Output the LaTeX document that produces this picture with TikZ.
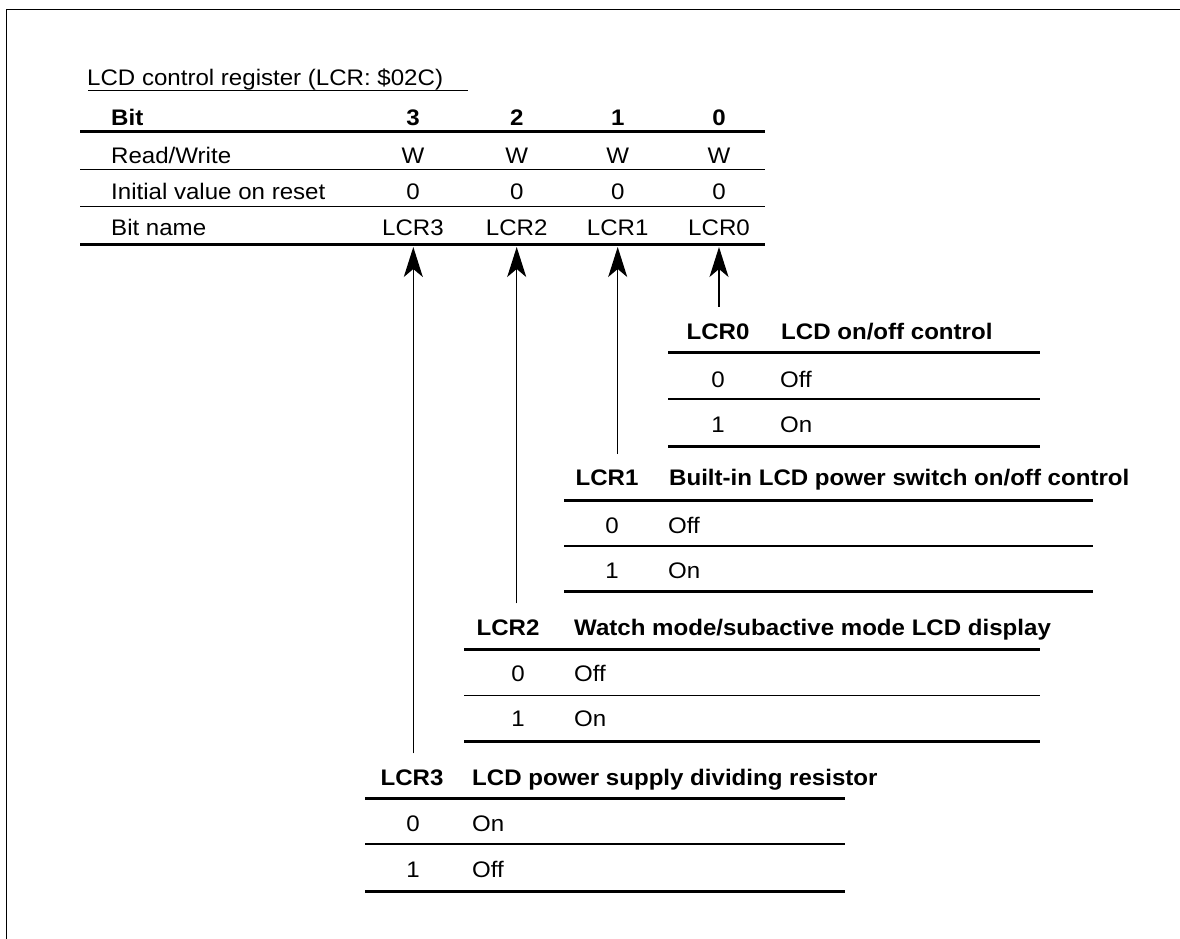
\documentclass[tikz,border=0pt]{standalone}
\usepackage{fontspec}
\setmainfont{Liberation Sans}[FakeStretch=1.07]
\usetikzlibrary{arrows.meta}
\tikzset{
  lbl/.style={inner sep=0pt, anchor=base west, font=\fontsize{22.5}{27}\selectfont},
  cval/.style={inner sep=0pt, anchor=base, font=\fontsize{22.5}{27}\selectfont},
  blbl/.style={lbl, font=\fontsize{22.5}{27}\selectfont\bfseries},
  bval/.style={cval, font=\fontsize{22.5}{27}\selectfont\bfseries},
  heavyrule/.style={line width=3pt},
  lightrule/.style={line width=1.2pt},
  framerule/.style={line width=1.5pt},
  ptr/.style={line width=1.3pt, -{Stealth[length=30pt,width=19pt,inset=8pt]}}
}
\begin{document}
\begin{tikzpicture}[x=1pt,y=-1pt]
\useasboundingbox (0,0) rectangle (1180,939);
% frame
\draw[framerule] (6.7,939) -- (6.7,9.3) -- (1180,9.3);
% title
\node[lbl] (title) at (87,86) {LCD control register (LCR: \$02C)};
\draw[lightrule] (88,90.7) -- (468,90.7);
% main table
\node[blbl] (bit) at (111,125) {Bit};
\node[bval] (b3) at (413,125) {3};
\node[bval] (b2) at (516.7,125) {2};
\node[bval] (b1) at (617.7,125) {1};
\node[bval] (b0) at (719,125) {0};
\draw[heavyrule] (80,131.7) -- (765,131.7);
\node[lbl] (rw) at (111,163) {Read/Write};
\node[cval] (w3) at (413,163) {W};
\node[cval] (w2) at (516.7,163) {W};
\node[cval] (w1) at (617.7,163) {W};
\node[cval] (w0) at (719,163) {W};
\draw[lightrule] (80,169.3) -- (765,169.3);
\node[lbl] (iv) at (111,199) {Initial value on reset};
\node[cval] (i3) at (413,199) {0};
\node[cval] (i2) at (516.7,199) {0};
\node[cval] (i1) at (617.7,199) {0};
\node[cval] (i0) at (719,199) {0};
\draw[lightrule] (80,206.7) -- (765,206.7);
\node[lbl] (bn) at (111,235) {Bit name};
\node[cval] (n3) at (413,235) {LCR3};
\node[cval] (n2) at (516.7,235) {LCR2};
\node[cval] (n1) at (617.7,235) {LCR1};
\node[cval] (n0) at (719,235) {LCR0};
\draw[heavyrule] (80,244) -- (765,244);
% arrow coordinates
\coordinate (t3) at (413.3,247);
\coordinate (t2) at (516.7,247);
\coordinate (t1) at (617.7,247);
\coordinate (t0) at (719,247);
\coordinate (s3) at (413.3,753.3);
\coordinate (s2) at (516.7,603.3);
\coordinate (s1) at (617.7,454);
\coordinate (s0) at (719,306.7);
\draw[ptr] (s3) -- (t3);
\draw[ptr] (s2) -- (t2);
\draw[ptr] (s1) -- (t1);
\draw[ptr] (s0) -- (t0);
% LCR0 table
\node[bval] (h0) at (718,339) {LCR0};
\node[blbl] (d0) at (781,339) {LCD on/off control};
\draw[heavyrule] (668,352.7) -- (1040,352.7);
\node[cval] (v00) at (718,387) {0};
\node[lbl] (x00) at (780,387) {Off};
\draw[lightrule] (668,399) -- (1040,399);
\node[cval] (v01) at (718,432) {1};
\node[lbl] (x01) at (780,432) {On};
\draw[heavyrule] (668,446) -- (1040,446);
% LCR1 table
\node[bval] (h1) at (607,485) {LCR1};
\node[blbl] (d1) at (669,485) {Built-in LCD power switch on/off control};
\draw[heavyrule] (564,500) -- (1092.7,500);
\node[cval] (v10) at (612,533) {0};
\node[lbl] (x10) at (668,533) {Off};
\draw[lightrule] (564,546) -- (1092.7,546);
\node[cval] (v11) at (612,578) {1};
\node[lbl] (x11) at (668,578) {On};
\draw[heavyrule] (564,591.5) -- (1092.7,591.5);
% LCR2 table
\node[bval] (h2) at (508,635) {LCR2};
\node[blbl] (d2) at (574,635) {Watch mode/subactive mode LCD display};
\draw[heavyrule] (464,649.3) -- (1040,649.3);
\node[cval] (v20) at (518,681) {0};
\node[lbl] (x20) at (574,681) {Off};
\draw[lightrule] (464,695.7) -- (1040,695.7);
\node[cval] (v21) at (518,726) {1};
\node[lbl] (x21) at (574,726) {On};
\draw[heavyrule] (464,741.7) -- (1040,741.7);
% LCR3 table
\node[bval] (h3) at (412,785) {LCR3};
\node[blbl] (d3) at (472,785) {LCD power supply dividing resistor};
\draw[heavyrule] (365,798) -- (845,798);
\node[cval] (v30) at (413,831) {0};
\node[lbl] (x30) at (472,831) {On};
\draw[lightrule] (365,844) -- (845,844);
\node[cval] (v31) at (413,877) {1};
\node[lbl] (x31) at (472,877) {Off};
\draw[heavyrule] (365,891) -- (845,891);
\end{tikzpicture}
\end{document}
